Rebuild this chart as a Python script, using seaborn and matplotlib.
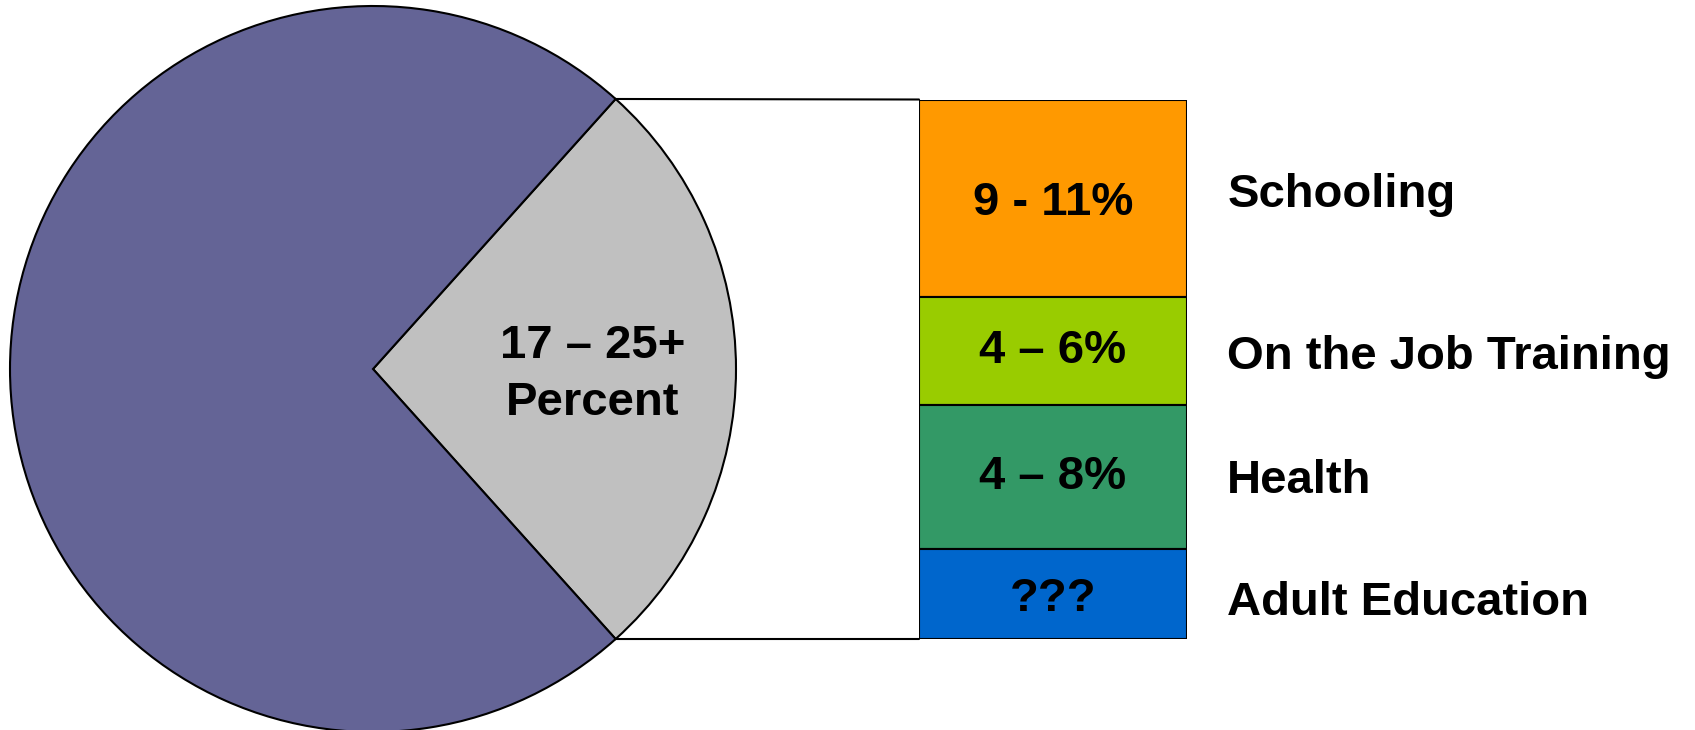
import numpy as np
import matplotlib
matplotlib.use("Agg")
import matplotlib.pyplot as plt
import seaborn as sns
from matplotlib.patches import ConnectionPatch
from matplotlib.transforms import offset_copy

# ---- data ----
pie_labels = ["Human capital investment", "Other"]
pie_values = [26.7, 73.3]
pie_text = "17 – 25+\nPercent"

bar_categories = ["Schooling", "On the Job Training", "Health", "Adult Education"]
bar_values = [11, 6, 8, 5]
bar_texts = ["9 - 11%", "4 – 6%", "4 – 8%", "???"]

pie_colors = ["#C0C0C0", "#646496"]
bar_colors = ["#FF9900", "#99CC00", "#339966", "#0066CC"]

# small vertical nudges of the text (pixels, positive = up)
label_nudge = [3, -6, -4, -9]
value_nudge = [-5, 0, 0, -5]

sns.set_theme(style="white")
plt.rcParams['font.family'] = ['Liberation Sans', 'DejaVu Sans']
plt.rcParams['text.color'] = 'black'

W, H = 1695, 730
fig = plt.figure(figsize=(W / 100, H / 100), dpi=100)

# pie axes (pixel layout)
cx, cy, r = 373, 369, 363
ax_pie = fig.add_axes([(cx - r) / W, (H - cy - r) / H, 2 * r / W, 2 * r / H])
gray_angle = 360 * pie_values[0] / sum(pie_values)
wedges, _ = ax_pie.pie(pie_values, colors=pie_colors, startangle=-gray_angle / 2,
                       counterclock=True, radius=1,
                       wedgeprops=dict(edgecolor="black", linewidth=1.5))
ax_pie.set_xlim(-1, 1)
ax_pie.set_ylim(-1, 1)
ax_pie.set_aspect("equal")
ax_pie.axis("off")
ax_pie.text(0.605, -0.015, pie_text, ha="center", va="center", fontsize=34,
            fontweight="bold", linespacing=1.4, color="black")

# bar axes
bx0, bx1, by0, by1 = 919, 1187, 99.5, 639
ax_bar = fig.add_axes([bx0 / W, (H - by1) / H, (bx1 - bx0) / W, (by1 - by0) / H])
total = sum(bar_values)
bottoms = np.concatenate([[0], np.cumsum(bar_values)[:-1]])
ax_bar.bar([0] * len(bar_values), bar_values, bottom=bottoms, width=1.0,
           color=bar_colors, edgecolor="black", linewidth=1.5)
ax_bar.set_xlim(-0.5, 0.5)
ax_bar.set_ylim(total, 0)
ax_bar.axis("off")
for b, v, t, cat, ln, vn in zip(bottoms, bar_values, bar_texts, bar_categories,
                                label_nudge, value_nudge):
    ax_bar.text(0, b + v / 2, t, ha="center", va="center", fontsize=34,
                fontweight="bold", color="black",
                transform=offset_copy(ax_bar.transData, fig=fig, y=vn, units="dots"))
    ax_bar.text(1.15, b + v / 2, cat, ha="left", va="center", fontsize=34,
                fontweight="bold", color="black",
                transform=offset_copy(ax_bar.get_yaxis_transform(), fig=fig, y=ln, units="dots"))

# connector lines
theta = np.deg2rad(gray_angle / 2)
for sgn, yb in [(1, 0), (-1, total)]:
    con = ConnectionPatch(xyA=(np.cos(theta), sgn * np.sin(theta)), coordsA=ax_pie.transData,
                          xyB=(-0.5, yb), coordsB=ax_bar.transData,
                          color="black", linewidth=1.5)
    fig.add_artist(con)

fig.savefig("out.png", dpi=100, facecolor="white")
